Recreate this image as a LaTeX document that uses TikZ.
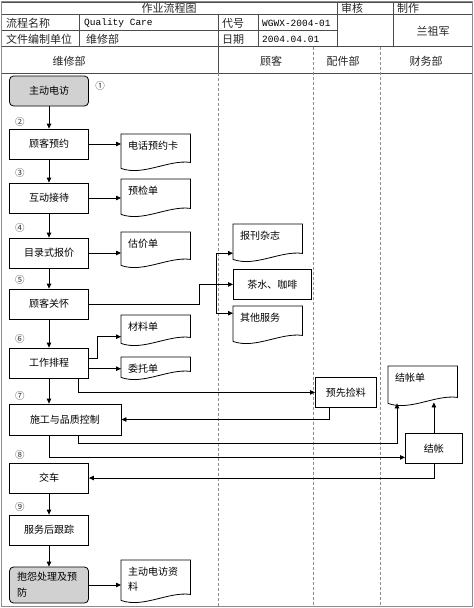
\documentclass[tikz,border=0pt]{standalone}
\usepackage{fontspec}
\setmainfont{Noto Sans CJK SC}
\newfontfamily\monof{Liberation Mono}
\usetikzlibrary{arrows.meta,calc}
\newcommand\wavydoc[1]{\draw[line] ($(#1.south west)+(0,-3)$) -- (#1.north west) -- (#1.north east) -- ($(#1.south east)+(0,-9)$) .. controls ($(#1.south east)+(-22,-12)$) and ($(#1.south west)+(22,5)$) .. ($(#1.south west)+(0,-3)$);}
\begin{document}
\begin{tikzpicture}[x=1pt,y=-1pt,
  line/.style={line width=0.8pt},
  arr/.style={line width=0.8pt,-{Triangle[length=5pt,width=4.5pt]}},
  box/.style={draw,line width=0.8pt,inner sep=0,minimum width=79pt,minimum height=30pt,font=\fontsize{10}{12}\selectfont},
  rbox/.style={box,rounded corners=4pt,fill=black!18},
  docbox/.style={inner sep=0,minimum width=69pt,minimum height=37pt,anchor=north west},
  dlab/.style={anchor=north west,inner sep=0,xshift=7pt,yshift=-7pt,font=\fontsize{10}{15}\selectfont,align=left},
  num/.style={font=\fontsize{9.5}{11}\selectfont,inner sep=0,text=black!80},
  hd/.style={font=\fontsize{11}{13}\selectfont,inner sep=0,text=black!85},
  mono/.style={font=\monof\fontsize{9.5}{11}\selectfont,inner sep=0,text=black},
  lane/.style={draw=black!45,dashed,dash pattern=on 3pt off 2pt,line width=0.6pt},
  grid/.style={draw=black!70,line width=0.8pt},
]
\useasboundingbox (0,0) rectangle (474,608);
% outer frame
\draw[draw=black!45,line width=1.6pt] (1.5,1.5) rectangle (472.5,606.5);
% header grid
\draw[grid] (2,2) -- (472,2);
\draw[grid] (2,14.5) -- (472,14.5);
\draw[grid] (2,30.5) -- (337,30.5);
\draw[grid] (2,46.5) -- (472,46.5);
\draw[grid] (2,73) -- (472,73);
\draw[grid] (79,14.5) -- (79,46.5);
\draw[grid] (218,14.5) -- (218,73);
\draw[grid] (258,14.5) -- (258,46.5);
\draw[grid] (337,2) -- (337,46.5);
\draw[grid] (393,2) -- (393,46.5);
% lanes
\draw[lane] (218,73) -- (218,606);
\draw[lane] (313,46.5) -- (313,606);
\draw[lane] (380,46.5) -- (380,606);
% header texts
\node[hd] (t1) at (169,8.5) {作业流程图};
\node[hd,anchor=west] (t2) at (341,8.5) {审核};
\node[hd,anchor=west] (t3) at (397,8.5) {制作};
\node[hd,anchor=west] (t4) at (6,23) {流程名称};
\node[mono,anchor=west] (t5) at (84,23) {Quality Care};
\node[hd,anchor=west] (t6) at (222,23) {代号};
\node[mono,anchor=west] (t7) at (262,23) {WGWX-2004-01};
\node[hd,anchor=west] (t8) at (6,39) {文件编制单位};
\node[hd,anchor=west] (t9) at (86,39) {维修部};
\node[hd,anchor=west] (t10) at (222,39) {日期};
\node[mono,anchor=west] (t11) at (262,39) {2004.04.01};
\node[hd] (t12) at (433,31) {兰祖军};
\node[hd] (l1) at (69,61) {维修部};
\node[hd] (l2) at (271,61) {顾客};
\node[hd] (l3) at (343,61) {配件部};
\node[hd] (l4) at (426,61) {财务部};
% main boxes
\node[rbox] (n1) at (49,91) {主动电访};
\node[box] (n2) at (49,144) {顾客预约};
\node[box] (n3) at (49,198) {互动接待};
\node[box] (n4) at (49,253) {目录式报价};
\node[box] (n5) at (49,304) {顾客关怀};
\node[box] (n6) at (49,363) {工作排程};
\node[box,minimum width=112pt,minimum height=31pt] (n7) at (65,419.5) {施工与品质控制};
\node[box] (n8) at (49,478) {交车};
\node[box] (n9) at (49,530) {服务后跟踪};
\node[rbox,minimum height=36pt,text width=64pt,align=left,font=\fontsize{10}{16}\selectfont] (n10) at (49,585) {抱怨处理及预\\防};
% numbers
\node[num] (k1) at (100,86) {①};
\node[num] (k2) at (20,122) {②};
\node[num] (k3) at (20,173) {③};
\node[num] (k4) at (20,228) {④};
\node[num] (k5) at (20,280) {⑤};
\node[num] (k6) at (20,339) {⑥};
\node[num] (k7) at (20,396) {⑦};
\node[num] (k8) at (20,455) {⑧};
\node[num] (k9) at (20,507) {⑨};
% documents
\node[docbox,label={[dlab]north west:电话预约卡}] (d1) at (121,134) {};
\node[docbox,minimum height=38pt,label={[dlab]north west:预检单}] (d2) at (121,179) {};
\node[docbox,minimum height=36pt,label={[dlab]north west:估价单}] (d3) at (121,232) {};
\node[docbox,minimum height=31pt,label={[dlab]north west:材料单}] (d4) at (121,315) {};
\node[docbox,minimum height=23pt,label={[dlab]north west:委托单}] (d5) at (121,357) {};
\node[docbox,minimum height=43pt,label={[dlab]north west:主动电访资\\料}] (d6) at (121,560) {};
\node[docbox,minimum height=38pt,label={[dlab]north west:报刊杂志}] (c1) at (233,224) {};
\node[box,anchor=north west,minimum width=78pt] (c2) at (233,269) {茶水、咖啡};
\node[docbox,minimum height=38pt,label={[dlab]north west:其他服务}] (c3) at (233,306) {};
\node[box,anchor=north west,minimum width=61pt] (p1) at (315,377) {预先捡料};
\node[docbox,minimum height=40pt,label={[dlab]north west:结帐单}] (f1) at (388,366) {};
\node[box,anchor=north west,minimum width=57pt] (f2) at (405,433) {结帐};
\wavydoc{d1}\wavydoc{d2}\wavydoc{d3}\wavydoc{d4}\wavydoc{d5}\wavydoc{d6}
\wavydoc{c1}\wavydoc{c3}\wavydoc{f1}
% connectors
\draw[arr] (n1.south) -- (n2.north);
\draw[arr] (n2.east) -- (n2.east -| d1.west);
\draw[arr] (n2.south) -- (n3.north);
\draw[arr] (n3.east) -- (n3.east -| d2.west);
\draw[arr] (n3.south) -- (n4.north);
\draw[arr] (n4.east) -- (n4.east -| d3.west);
\draw[arr] (n4.south) -- (n5.north);
\draw[arr] (n5.east) -- ++(110,0) |- (c2.west);
\draw[arr] ($(c2.west)+(-17,0)$) |- ($(c1.west)+(0,10)$);
\draw[arr] ($(c2.west)+(-17,0)$) |- ($(c3.west)+(0,-12)$);
\draw[arr] (n5.south) -- (n6.north);
\draw[arr] ($(n6.east)+(0,-5)$) -- ++(8,0) |- ($(d4.west)+(0,6)$);
\draw[arr] (n6.east |- d5.west) -- (d5.west);
\draw[arr] (n6.south) -- (n6.south |- n7.north);
\draw[arr] ($(n6.south)+(29,0)$) |- (p1.west);
\draw[arr] ($(p1.south)+(-17,0)$) |- (n7.east);
\draw[arr] ($(n7.south)+(13,0)$) -- ++(0,8) -| ($(f1.south west)+(9,-3)$);
\draw[arr] (n7.south -| n8.north) |- ($(f2.west)+(0,9)$);
\draw[arr] (f2.north) -- ($(f2.north |- f1.south)+(0,-4)$);
\draw[arr] (f2.south) |- (n8.east);
\draw[arr] (n8.south) -- (n9.north);
\draw[arr] (n9.south) -- (n10.north);
\draw[arr] (n10.east) -- (n10.east -| d6.west);
\end{tikzpicture}
\end{document}
